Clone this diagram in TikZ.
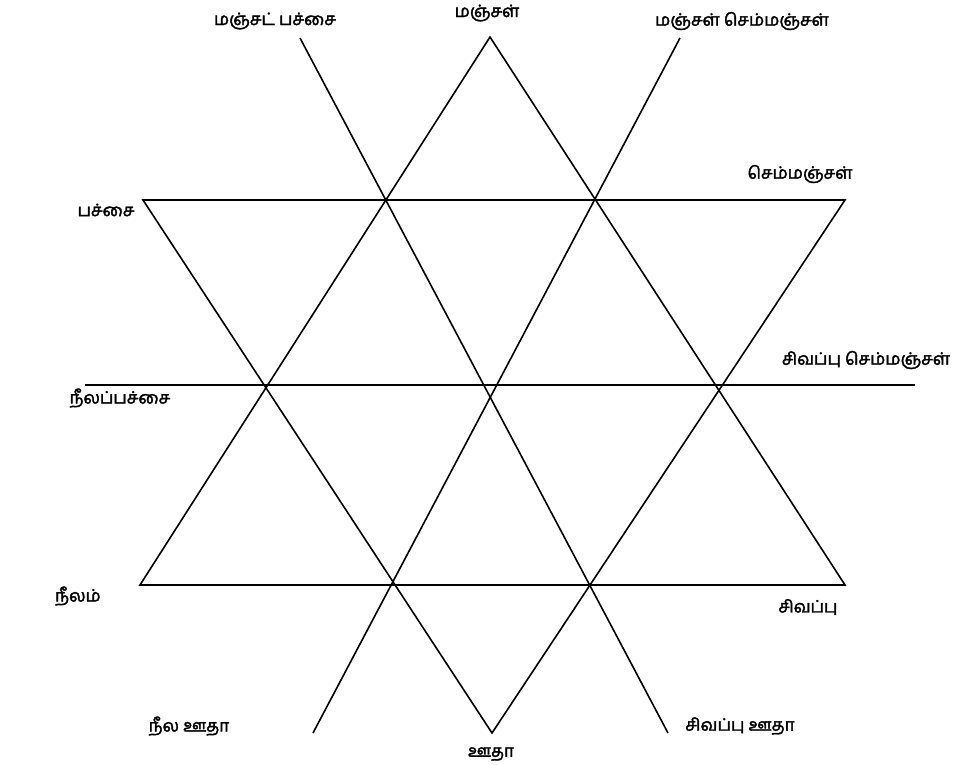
\documentclass[tikz,border=0pt]{standalone}
\usepackage{fontspec}
\newfontfamily\tamilfont[Script=Tamil, FakeBold=2.2]{Hind Madurai}
\usetikzlibrary{positioning}

\begin{document}
\begin{tikzpicture}[
  x=1pt, y=-1pt,
  edge/.style={black, line width=1.6pt},
  lbl/.style={font=\tamilfont\fontsize{17}{19}\selectfont, inner sep=1pt},
]
\useasboundingbox (0,0) rectangle (970,765);

% star corners
\coordinate (apex) at (490,37);
\coordinate (baseL) at (140,585);
\coordinate (baseR) at (845,585);
\coordinate (roofL) at (143,200);
\coordinate (roofR) at (845,200);
\coordinate (foot) at (492,733);

% lines through the middle
\coordinate (midL) at (85,385);
\coordinate (midR) at (915,385);
\coordinate (ygTop) at (300,38);
\coordinate (rvBot) at (668,733);
\coordinate (yoTop) at (680,38);
\coordinate (bvBot) at (313,733);

\draw[edge] (apex) -- (baseL) -- (baseR) -- cycle;
\draw[edge] (roofL) -- (roofR) -- (foot) -- cycle;
\draw[edge] (midL) -- (midR);
\draw[edge] (ygTop) -- (rvBot);
\draw[edge] (yoTop) -- (bvBot);

% colour names
\node[lbl] (yellow) at (487,13) {மஞ்சள்};
\node[lbl] (yelgreen) at (275,21) {மஞ்சட் பச்சை};
\node[lbl] (yelorange) at (742,21) {மஞ்சள் செம்மஞ்சள்};
\node[lbl] (orange) at (800,174) {செம்மஞ்சள்};
\node[lbl] (green) at (106,210) {பச்சை};
\node[lbl] (redorange) at (866,360) {சிவப்பு செம்மஞ்சள்};
\node[lbl] (bluegreen) at (120,398) {நீலப்பச்சை};
\node[lbl] (blue) at (78,596) {நீலம்};
\node[lbl] (red) at (808,607) {சிவப்பு};
\node[lbl] (blueviolet) at (189,726) {நீல ஊதா};
\node[lbl] (redviolet) at (740,726) {சிவப்பு ஊதா};
\node[lbl] (violet) at (491,754) {ஊதா};

\end{tikzpicture}
\end{document}
